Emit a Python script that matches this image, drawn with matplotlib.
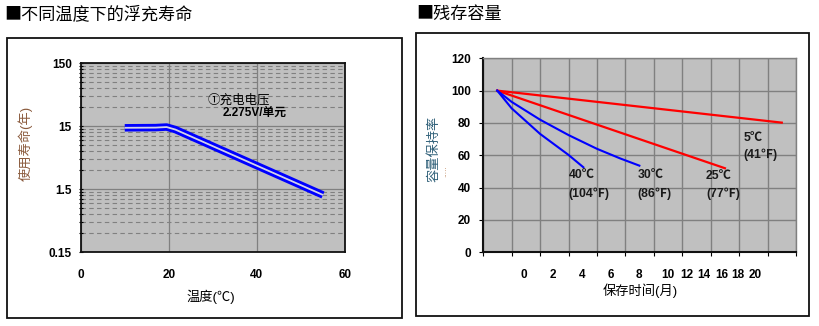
import numpy as np
import matplotlib.pyplot as plt
from matplotlib.patches import Rectangle
from matplotlib.ticker import FixedLocator, NullFormatter

plt.rcParams['font.family'] = ['Liberation Sans', 'Noto Sans CJK SC', 'DejaVu Sans']
plt.rcParams['axes.unicode_minus'] = False

# float life vs. temperature (log scale)
life_temp = [10, 17, 19.5, 21.5, 55]
life_years = [14.2, 14.3, 14.6, 13.3, 1.22]
life_yticks = [0.15, 1.5, 15, 150]
life_ylabels = ['0.15', '1.5', '15', '150']
life_xticks = [0, 20, 40, 60]

# residual capacity vs. storage time, x in grid columns
cap_cols = list(range(12))
month_labels = ['0', '2', '4', '6', '8', '10', '12', '14', '16', '18', '20']
month_pos = [1.44, 2.46, 3.46, 4.48, 5.48, 6.51, 7.15, 7.76, 8.38, 8.96, 9.58]
cap_yticks = [0, 20, 40, 60, 80, 100, 120]

x_40c = [0.49, 1.0, 2.0, 3.0, 3.52]
y_40c = [100, 89, 73.2, 60.2, 52.6]
x_30c = [0.49, 1.0, 2.0, 3.0, 4.0, 4.81, 5.49]
y_30c = [100, 93, 82, 72.5, 64, 58.1, 53.6]
x_25c = [0.49, 8.5]
y_25c = [100, 52]
x_5c = [0.49, 10.5]
y_5c = [100, 80.2]

curve_labels = [('40℃', '(104℉)', 3.01, 47.8, 36.5),
                ('30℃', '(86℉)', 5.42, 47.8, 36.5),
                ('25℃', '(77℉)', 7.83, 47.4, 35.9),
                ('5℃', '(41℉)', 9.15, 70.5, 60.6)]

W, H = 820, 326
fig = plt.figure(figsize=(8.2, 3.26), dpi=100)

def fbox(x0, y0, x1, y1):
    # pixel box -> figure fraction [left, bottom, width, height]
    return [x0 / W, 1 - y1 / H, (x1 - x0) / W, (y1 - y0) / H]

# outer frames
for x0, y0, x1, y1 in [(7.3, 37.7, 401.7, 317.7), (416, 33.3, 809.3, 316)]:
    b = fbox(x0, y0, x1, y1)
    fig.patches.append(Rectangle((b[0], b[1]), b[2], b[3], transform=fig.transFigure,
                                 fill=False, edgecolor='#111111', lw=1.3))

cjk = ['Noto Sans CJK SC', 'DejaVu Sans']
fig.text(4 / W, 1 - 14 / H, '■不同温度下的浮充寿命', fontsize=12.3, va='center', ha='left', family=cjk)
fig.text(416 / W, 1 - 14 / H, '■残存容量', fontsize=12.3, va='center', ha='left', family=cjk)

bg = '#c0c0c0'
gc = '#808080'
tick_fs = 8.5

# ---- left: float life
ax1 = fig.add_axes(fbox(80.7, 63.3, 345, 252.3))
ax1.set_facecolor(bg)
ax1.set_yscale('log')
ax1.set_ylim(0.15, 150)
ax1.set_xlim(0, 60)
ax1.yaxis.set_major_locator(FixedLocator(life_yticks))
ax1.set_yticklabels(life_ylabels)
minor = [k * b for b in life_yticks[:-1] for k in range(2, 10)]
ax1.yaxis.set_minor_locator(FixedLocator(minor))
ax1.yaxis.set_minor_formatter(NullFormatter())
ax1.set_xticks(life_xticks)
ax1.grid(which='major', axis='both', color=gc, lw=0.9, ls='-')
ax1.grid(which='minor', axis='y', color=gc, lw=0.8, ls=(0, (4, 3)))
ax1.tick_params(which='both', length=3, width=0.8, direction='inout')
ax1.tick_params(axis='x', length=0, pad=12)
ax1.tick_params(axis='y', which='major', pad=5)
for lab in ax1.get_xticklabels() + ax1.get_yticklabels():
    lab.set_fontweight('bold')
    lab.set_fontsize(tick_fs)
for s in ax1.spines.values():
    s.set_color('#111111')
    s.set_linewidth(1.3)
ax1.set_axisbelow(True)

ax1.plot(life_temp, life_years, color='#0000ff', lw=5.4, solid_capstyle='butt', zorder=3)
ax1.plot(life_temp, life_years, color='#d4d4e8', lw=1.3, solid_capstyle='butt', zorder=4)

ax1.text(0.48, 0.805, '①充电电压', transform=ax1.transAxes, fontsize=9, ha='left', va='center')
ax1.text(0.537, 0.736, '2.275V/单元', transform=ax1.transAxes, fontsize=8.5,
         fontweight='bold', ha='left', va='center')

fig.text(211 / W, 1 - 297 / H, '温度(℃)', fontsize=9.5, ha='center', va='center')
fig.text(25 / W, 1 - 143.5 / H, '使用寿命(年)', fontsize=9.5, ha='center', va='center',
         rotation=90, color='#8a5a3c')

# ---- right: residual capacity
ax2 = fig.add_axes(fbox(483.3, 58.3, 796, 252.3))
ax2.set_facecolor(bg)
ax2.set_xlim(0, 11)
ax2.set_ylim(0, 120)
ax2.set_yticks(cap_yticks)
ax2.xaxis.set_minor_locator(FixedLocator(cap_cols))
ax2.set_xticks(month_pos)
ax2.set_xticklabels(month_labels)
ax2.grid(which='minor', axis='x', color=gc, lw=1.0)
ax2.grid(which='major', axis='y', color=gc, lw=1.0)
ax2.tick_params(axis='x', which='major', length=0, pad=12)
ax2.tick_params(axis='x', which='minor', length=3, width=0.8, direction='out')
ax2.tick_params(axis='y', length=3, width=0.8, direction='out', pad=6)
for lab in ax2.get_xticklabels() + ax2.get_yticklabels():
    lab.set_fontweight('bold')
    lab.set_fontsize(tick_fs)
for side in ['left', 'bottom']:
    ax2.spines[side].set_color('#111111')
    ax2.spines[side].set_linewidth(1.5)
for side in ['top', 'right']:
    ax2.spines[side].set_color(gc)
    ax2.spines[side].set_linewidth(1.0)
ax2.set_axisbelow(True)

ax2.plot(x_5c, y_5c, color='#ff0000', lw=1.6, zorder=3)
ax2.plot(x_25c, y_25c, color='#ff0000', lw=1.6, zorder=3)
ax2.plot(x_30c, y_30c, color='#0000ff', lw=1.5, zorder=3)
ax2.plot(x_40c, y_40c, color='#0000ff', lw=1.5, zorder=3)

for t1, t2, x, y1, y2 in curve_labels:
    ax2.text(x, y1, t1, fontsize=8.8, fontweight='bold', ha='left', va='center', color='#1a1a1a')
    ax2.text(x, y2, t2, fontsize=8.8, fontweight='bold', ha='left', va='center', color='#1a1a1a')

fig.text(640 / W, 1 - 291 / H, '保存时间(月)', fontsize=9.5, ha='center', va='center')
fig.text(434 / W, 1 - 149 / H, '容量保持率', fontsize=9.5, ha='center', va='center',
         rotation=90, color='#2e5f78')
fig.text(446.5 / W, 1 - 171 / H, '·····', fontsize=5, ha='center', va='center',
         rotation=90, color='#b07040')

fig.savefig('out.png', dpi=100)
